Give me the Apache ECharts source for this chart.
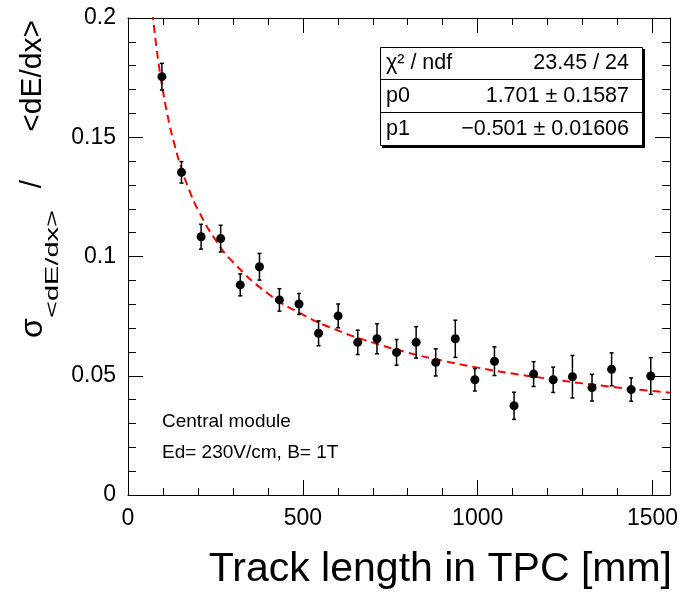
<!DOCTYPE html>
<html>
<head>
	<meta charset="UTF-8">
	<title>dE/dx resolution vs track length</title>
	<script src="https://cdn.jsdelivr.net/npm/echarts@6.0.0/dist/echarts.min.js"></script>
	<style>
		html, body { margin: 0; padding: 0; background: #fff; }
		#chart { width: 684px; height: 592px; }
	</style>
</head>
<body>
	<div id="chart"></div>
	<script type="text/javascript">
		// track length in TPC [mm]
		var trackLen = [97, 153, 209, 265, 321, 376, 433, 489, 545, 601, 657, 712, 768,
			824, 880, 936, 992, 1048, 1104, 1160, 1216, 1271, 1327, 1383, 1439, 1495];
		// sigma(<dE/dx>) / <dE/dx>
		var resolution = [0.1754, 0.1353, 0.1083, 0.1075, 0.0881, 0.0957, 0.0818, 0.0801, 0.0678,
			0.0751, 0.0640, 0.0655, 0.0598, 0.0640, 0.0556, 0.0655, 0.0483, 0.0561, 0.0374,
			0.0507, 0.0483, 0.0496, 0.0450, 0.0527, 0.0442, 0.0499];
		// error of each point
		var resErr = [0.0056, 0.0045, 0.0052, 0.0056, 0.0046, 0.0056, 0.0047, 0.0044, 0.0052,
			0.0050, 0.0051, 0.0063, 0.0054, 0.0066, 0.0057, 0.0078, 0.0047, 0.0060, 0.0057,
			0.0052, 0.0053, 0.0089, 0.0056, 0.0069, 0.0049, 0.0077];

		// fitted curve p0 * x^p1
		var fitX = [70, 72, 75, 80, 90, 100, 110, 120, 130, 150, 175, 200, 250, 300, 400, 500,
			600, 700, 800, 900, 1000, 1100, 1200, 1300, 1400, 1500, 1550];
		var fitY = [0.2025, 0.1996, 0.1956, 0.1893, 0.1785, 0.1693, 0.1614, 0.1545, 0.1485,
			0.1382, 0.1279, 0.1196, 0.1070, 0.0977, 0.0845, 0.0756, 0.0690, 0.0639, 0.0597,
			0.0563, 0.0534, 0.0509, 0.0488, 0.0468, 0.0451, 0.0436, 0.0429];

		// axis ticks
		var xMajor = [0, 500, 1000, 1500];
		var xMinor = [100, 200, 300, 400, 600, 700, 800, 900, 1100, 1200, 1300, 1400];

		// stats box lines
		var statNames = ['\u03c7\u00b2 / ndf', 'p0', 'p1'];
		var statValues = ['23.45 / 24', '1.701 \u00b1 0.1587', '\u22120.501 \u00b1 0.01606'];

		var FONT = '"Liberation Sans", Arial, Helvetica, sans-serif';

		var points = [];
		var errBars = [];
		for (var i = 0; i < trackLen.length; i++) {
			points.push([trackLen[i], resolution[i]]);
			errBars.push([trackLen[i], resolution[i] - resErr[i], resolution[i] + resErr[i]]);
		}
		var fitLine = [];
		for (var j = 0; j < fitX.length; j++) {
			fitLine.push([fitX[j], fitY[j]]);
		}

		function renderErr(params, api) {
			var lo = api.coord([api.value(0), api.value(1)]);
			var hi = api.coord([api.value(0), api.value(2)]);
			var c = 2;
			var st = { stroke: '#000', lineWidth: 1.5 };
			return {
				type: 'group',
				children: [
					{ type: 'line', shape: { x1: lo[0], y1: lo[1], x2: hi[0], y2: hi[1] }, style: st },
					{ type: 'line', shape: { x1: lo[0] - c, y1: lo[1], x2: lo[0] + c, y2: lo[1] }, style: st },
					{ type: 'line', shape: { x1: hi[0] - c, y1: hi[1], x2: hi[0] + c, y2: hi[1] }, style: st }
				]
			};
		}

		function xAxisDef(pos, ticks, len, withLine, withLabel) {
			return {
				type: 'value',
				position: pos,
				min: 0,
				max: 1550,
				splitLine: { show: false },
				axisLine: { show: withLine, onZero: false, lineStyle: { color: '#000', width: 1 } },
				axisTick: { show: true, inside: true, length: len, customValues: ticks,
					lineStyle: { color: '#000', width: 1 } },
				axisLabel: { show: withLabel, customValues: xMajor, margin: 12,
					color: '#000', fontSize: 23, fontFamily: FONT,
					formatter: function (v) { return String(v); } }
			};
		}

		function yAxisDef(pos, withLabel) {
			return {
				type: 'value',
				position: pos,
				min: 0,
				max: 0.2,
				interval: 0.05,
				splitLine: { show: false },
				axisLine: { show: true, onZero: false, lineStyle: { color: '#000', width: 1 } },
				axisTick: { show: true, inside: true, length: 15, lineStyle: { color: '#000', width: 1 } },
				minorTick: { show: true, splitNumber: 5, length: 8, lineStyle: { color: '#000', width: 1 } },
				axisLabel: { show: withLabel, margin: 12, color: '#000', fontSize: 23, fontFamily: FONT }
			};
		}

		// stats box
		var statBox = [
			{ type: 'rect', shape: { x: 382, y: 49, width: 263, height: 99 }, style: { fill: '#000' }, z: 100 },
			{ type: 'rect', shape: { x: 380.5, y: 47.5, width: 262, height: 98 },
				style: { fill: '#fff', stroke: '#000', lineWidth: 1 }, z: 101 },
			{ type: 'line', shape: { x1: 380.5, y1: 79.5, x2: 642.5, y2: 79.5 }, style: { stroke: '#000', lineWidth: 1 }, z: 102 },
			{ type: 'line', shape: { x1: 380.5, y1: 112.5, x2: 642.5, y2: 112.5 }, style: { stroke: '#000', lineWidth: 1 }, z: 102 }
		];
		for (var k = 0; k < statNames.length; k++) {
			var cy = 63 + k * 33;
			statBox.push({ type: 'text', x: 386, y: cy, z: 103,
				style: { text: statNames[k], fill: '#000', font: '21.5px ' + FONT, align: 'left', verticalAlign: 'middle' } });
			statBox.push({ type: 'text', x: 629, y: cy, z: 103,
				style: { text: statValues[k], fill: '#000', font: '21.5px ' + FONT, align: 'right', verticalAlign: 'middle' } });
		}

		var chart = echarts.init(document.getElementById('chart'), null, { renderer: 'canvas' });

		var option = {
			animation: false,
			backgroundColor: '#fff',
			grid: { left: 128, right: 14, top: 18, bottom: 97 },
			xAxis: [
				xAxisDef('bottom', xMajor, 15, true, true),
				xAxisDef('bottom', xMinor, 7, false, false),
				xAxisDef('top', xMajor, 15, true, false),
				xAxisDef('top', xMinor, 7, false, false)
			],
			yAxis: [
				yAxisDef('left', true),
				yAxisDef('right', false)
			],
			series: [
				{
					name: 'fit',
					type: 'line',
					xAxisIndex: 0,
					yAxisIndex: 0,
					data: fitLine,
					smooth: true,
					showSymbol: false,
					clip: true,
					lineStyle: { color: '#ff0000', width: 2, type: [8, 5] },
					z: 2
				},
				{
					name: 'errors',
					type: 'custom',
					xAxisIndex: 0,
					yAxisIndex: 0,
					data: errBars,
					renderItem: renderErr,
					z: 3
				},
				{
					name: 'points',
					type: 'scatter',
					xAxisIndex: 0,
					yAxisIndex: 0,
					data: points,
					symbol: 'circle',
					symbolSize: 9,
					itemStyle: { color: '#000', opacity: 1 },
					z: 4
				}
			],
			graphic: statBox.concat([
				// x axis title
				{ type: 'text', x: 672, y: 570,
					style: { text: 'Track length in TPC [mm]', fill: '#000', font: '41px ' + FONT,
						align: 'right', verticalAlign: 'middle' } },
				// y axis title, built from pieces
				{ type: 'text', x: 33, y: 20, rotation: Math.PI / 2,
					style: { text: '<dE/dx>', fill: '#000', font: '30px ' + FONT, align: 'right', verticalAlign: 'middle' } },
				{ type: 'text', x: 33, y: 184, rotation: Math.PI / 2,
					style: { text: '/', fill: '#000', font: '30px ' + FONT, align: 'center', verticalAlign: 'middle' } },
				{ type: 'text', x: 53, y: 210, rotation: Math.PI / 2, scaleY: 0.62,
					style: { text: '<dE/dx>', fill: '#000', font: '29px ' + FONT, align: 'right', verticalAlign: 'middle' } },
				{ type: 'text', x: 33, y: 328, rotation: Math.PI / 2,
					style: { text: '\u03c3', fill: '#000', font: '32px ' + FONT, align: 'center', verticalAlign: 'middle' } },
				// annotation
				{ type: 'text', x: 162, y: 422,
					style: { text: 'Central module', fill: '#000', font: '19px ' + FONT, align: 'left', verticalAlign: 'middle' } },
				{ type: 'text', x: 162, y: 453,
					style: { text: 'Ed= 230V/cm, B= 1T', fill: '#000', font: '19px ' + FONT, align: 'left', verticalAlign: 'middle' } }
			])
		};

		chart.setOption(option);
	</script>
</body>
</html>
